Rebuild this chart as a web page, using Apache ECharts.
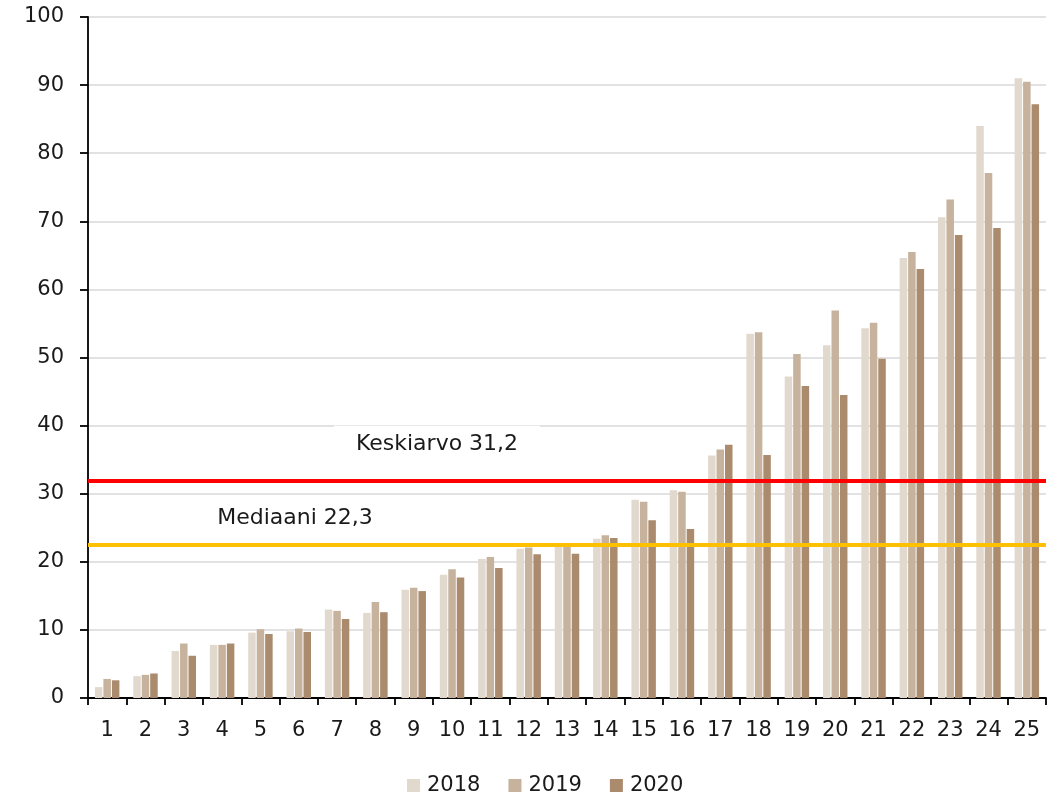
<!DOCTYPE html>
<html>
<head>
<meta charset="utf-8">
<script src="https://cdn.jsdelivr.net/npm/echarts@6/dist/echarts.min.js"></script>
<style>html,body{margin:0;padding:0;background:#fff;}#c{width:1058px;height:793px;}</style>
</head>
<body>
<div id="c"></div>
<script>
const categories = ['1','2','3','4','5','6','7','8','9','10','11','12','13','14','15','16','17','18','19','20','21','22','23','24','25'];
const seriesNames = ['2018','2019','2020'];
const values2018 = [1.6,3.2,6.9,7.8,9.6,9.8,13.0,12.5,15.9,18.1,20.4,21.9,22.3,23.4,29.1,30.5,35.6,53.5,47.2,51.8,54.3,64.6,70.6,84.0,91.0];
const values2019 = [2.8,3.4,8.0,7.8,10.1,10.2,12.8,14.1,16.2,18.9,20.7,22.1,22.5,23.9,28.8,30.3,36.5,53.7,50.5,56.9,55.1,65.5,73.2,77.1,90.5];
const values2020 = [2.6,3.6,6.2,8.0,9.4,9.7,11.6,12.6,15.7,17.7,19.1,21.1,21.2,23.5,26.1,24.8,37.2,35.7,45.8,44.5,49.8,63.0,68.0,69.0,87.2];
const yTicks = [0,10,20,30,40,50,60,70,80,90,100];
const meanLine = 31.9;
const medianLine = 22.5;
const meanLabel = 'Keskiarvo 31,2';
const medianLabel = 'Mediaani 22,3';

const colors = ['#e2d9ce', '#c6b29d', '#aa8b6d'];
const font = 'DejaVu Sans';
const chart = echarts.init(document.getElementById('c'), null, {renderer: 'canvas'});

const allValues = [values2018, values2019, values2020];
const series = seriesNames.map((n, i) => ({
  name: n,
  type: 'bar',
  data: allValues[i],
  barWidth: 7.5,
  barGap: '13%',
  itemStyle: {color: colors[i]},
  z: 2
}));
series.push({
  name: 'lines',
  type: 'line',
  data: [],
  silent: true,
  markLine: {
    symbol: 'none',
    silent: true,
    label: {show: false},
    z: 5,
    data: [
      {yAxis: meanLine, lineStyle: {color: '#ff0000', width: 4, type: 'solid'}},
      {yAxis: medianLine, lineStyle: {color: '#ffc000', width: 4, type: 'solid'}}
    ]
  }
});

chart.setOption({
  animation: false,
  backgroundColor: '#ffffff',
  textStyle: {fontFamily: font},
  grid: {left: 88, right: 12, top: 17, bottom: 95, containLabel: false},
  legend: {
    data: seriesNames,
    top: 770,
    left: 402,
    icon: 'rect',
    itemWidth: 13,
    itemHeight: 13,
    itemGap: 28,
    textStyle: {fontFamily: font, fontSize: 21, color: '#1a1a1a', padding: [0, 0, 0, 2]}
  },
  xAxis: {
    type: 'category',
    data: categories,
    boundaryGap: true,
    axisLine: {lineStyle: {color: '#000', width: 1.8}},
    axisTick: {show: true, length: 7, lineStyle: {color: '#000', width: 1.8}},
    axisLabel: {fontFamily: font, fontSize: 21, color: '#1a1a1a', margin: 22, interval: 0}
  },
  yAxis: {
    type: 'value',
    min: yTicks[0],
    max: yTicks[yTicks.length - 1],
    interval: yTicks[1] - yTicks[0],
    axisLine: {show: true, lineStyle: {color: '#000', width: 1.8}},
    axisTick: {show: true, length: 8, lineStyle: {color: '#000', width: 1.8}},
    axisLabel: {fontFamily: font, fontSize: 21, color: '#1a1a1a', margin: 24},
    splitLine: {show: true, lineStyle: {color: '#d9d9d9', width: 1.5}}
  },
  series: series
});

const yMeanLabel = chart.convertToPixel({yAxisIndex: 0}, meanLine + 5.3);
const yMedianLabel = chart.convertToPixel({yAxisIndex: 0}, medianLine + 3.9);
chart.setOption({
  graphic: [
    {type: 'text', x: 437, y: yMeanLabel, z: 10,
     style: {text: meanLabel, fontFamily: font, fontSize: 22, fill: '#1a1a1a', align: 'center', verticalAlign: 'middle',
             backgroundColor: '#ffffff', padding: [8, 22, 8, 22]}},
    {type: 'text', x: 295, y: yMedianLabel, z: 10,
     style: {text: medianLabel, fontFamily: font, fontSize: 22, fill: '#1a1a1a', align: 'center', verticalAlign: 'middle',
             backgroundColor: '#ffffff', padding: [3, 10, 3, 10]}}
  ]
});
</script>
</body>
</html>
